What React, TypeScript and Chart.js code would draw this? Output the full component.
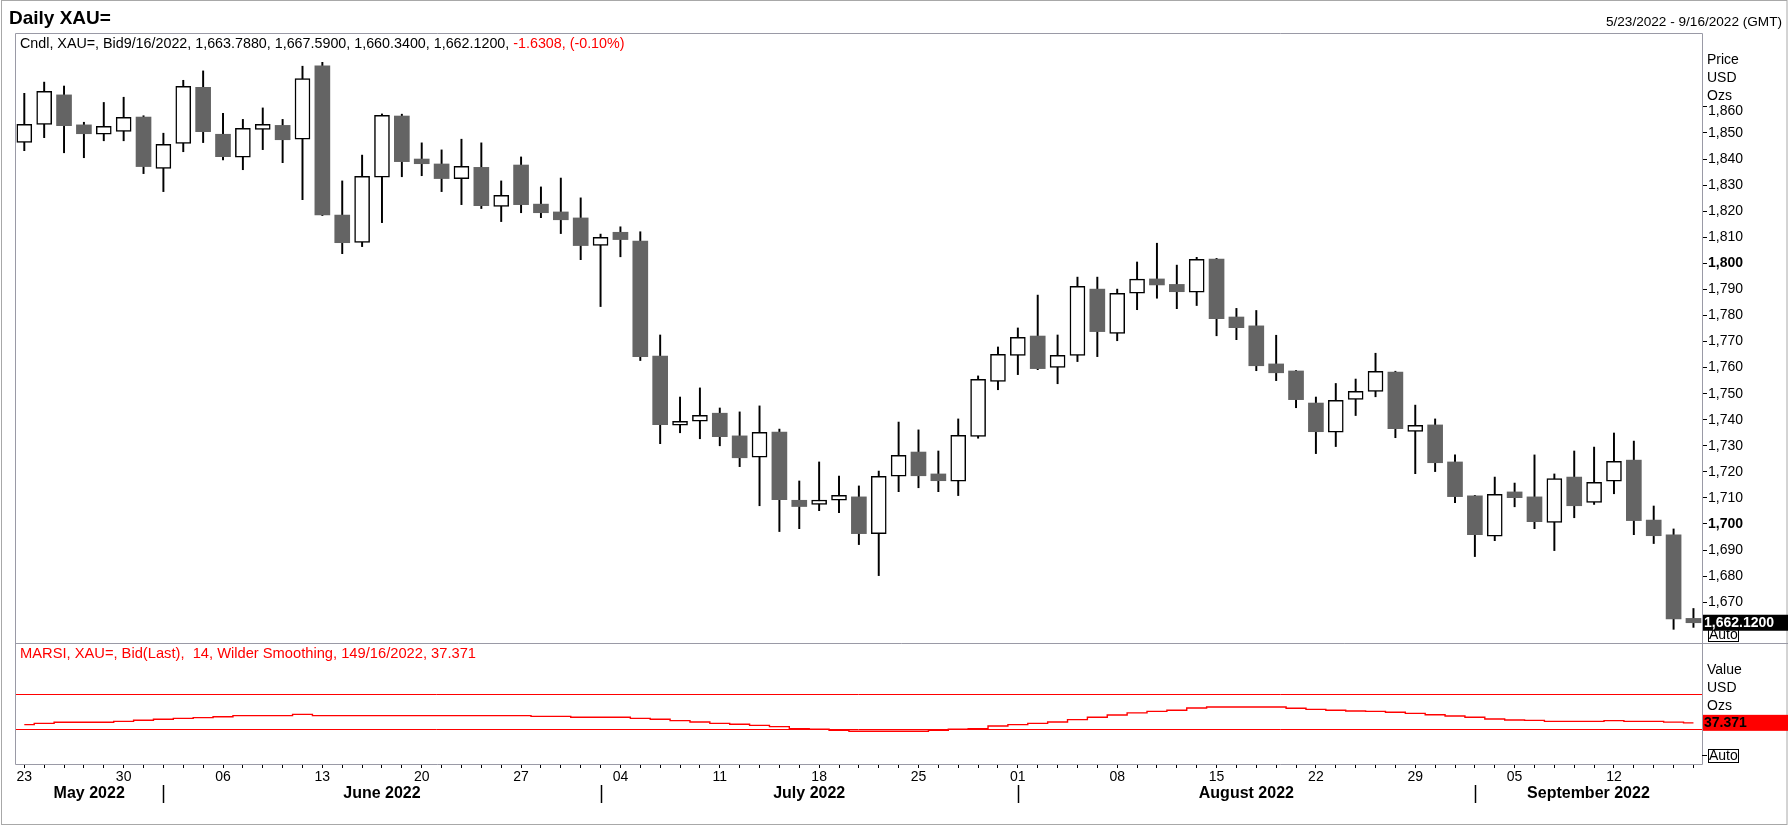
import React, { useEffect, useRef } from "react";
import { Chart, registerables } from "chart.js";

Chart.register(...registerables);

const FONT = '"Liberation Sans", Arial, sans-serif';

// trading days shown (Mon-Fri)
const dates = [
  "2022-05-23", "2022-05-24", "2022-05-25", "2022-05-26", "2022-05-27",
  "2022-05-30", "2022-05-31", "2022-06-01", "2022-06-02", "2022-06-03",
  "2022-06-06", "2022-06-07", "2022-06-08", "2022-06-09", "2022-06-10",
  "2022-06-13", "2022-06-14", "2022-06-15", "2022-06-16", "2022-06-17",
  "2022-06-20", "2022-06-21", "2022-06-22", "2022-06-23", "2022-06-24",
  "2022-06-27", "2022-06-28", "2022-06-29", "2022-06-30", "2022-07-01",
  "2022-07-04", "2022-07-05", "2022-07-06", "2022-07-07", "2022-07-08",
  "2022-07-11", "2022-07-12", "2022-07-13", "2022-07-14", "2022-07-15",
  "2022-07-18", "2022-07-19", "2022-07-20", "2022-07-21", "2022-07-22",
  "2022-07-25", "2022-07-26", "2022-07-27", "2022-07-28", "2022-07-29",
  "2022-08-01", "2022-08-02", "2022-08-03", "2022-08-04", "2022-08-05",
  "2022-08-08", "2022-08-09", "2022-08-10", "2022-08-11", "2022-08-12",
  "2022-08-15", "2022-08-16", "2022-08-17", "2022-08-18", "2022-08-19",
  "2022-08-22", "2022-08-23", "2022-08-24", "2022-08-25", "2022-08-26",
  "2022-08-29", "2022-08-30", "2022-08-31", "2022-09-01", "2022-09-02",
  "2022-09-05", "2022-09-06", "2022-09-07", "2022-09-08", "2022-09-09",
  "2022-09-12", "2022-09-13", "2022-09-14", "2022-09-15", "2022-09-16",
];

const opens = [
  1846.4, 1853.3, 1864.6, 1853.1, 1849.5,
  1850.6, 1856.1, 1836.4, 1846.0, 1867.5,
  1849.5, 1840.7, 1851.4, 1852.9, 1847.6,
  1875.7, 1818.5, 1808.0, 1833.0, 1856.5,
  1840.0, 1838.1, 1832.5, 1836.8, 1821.8,
  1837.7, 1822.7, 1819.7, 1817.4, 1806.9,
  1811.9, 1808.5, 1764.4, 1737.9, 1739.4,
  1742.5, 1733.8, 1725.6, 1735.3, 1709.1,
  1707.5, 1709.1, 1710.4, 1696.3, 1718.3,
  1727.6, 1719.2, 1716.4, 1733.6, 1754.7,
  1764.7, 1772.1, 1760.1, 1764.7, 1790.1,
  1773.1, 1788.5, 1794.0, 1791.9, 1788.9,
  1801.6, 1779.4, 1776.0, 1761.4, 1758.7,
  1746.4, 1735.2, 1747.8, 1750.9, 1758.3,
  1735.5, 1738.0, 1723.8, 1710.8, 1695.3,
  1712.3, 1710.4, 1700.6, 1718.0, 1708.3,
  1716.4, 1724.5, 1701.5, 1695.8, 1663.788,
];

const highs = [
  1865.2, 1869.5, 1868.0, 1854.1, 1861.7,
  1863.7, 1856.6, 1849.9, 1870.2, 1873.8,
  1857.5, 1855.2, 1859.6, 1855.2, 1875.6,
  1877.1, 1831.6, 1841.5, 1857.3, 1857.2,
  1846.2, 1843.5, 1847.6, 1846.2, 1831.6,
  1840.8, 1829.3, 1832.7, 1825.1, 1811.2,
  1814.0, 1812.1, 1772.5, 1748.7, 1752.2,
  1744.5, 1743.0, 1745.3, 1736.4, 1716.5,
  1723.8, 1718.4, 1714.6, 1720.3, 1739.1,
  1736.1, 1728.0, 1740.3, 1756.8, 1767.9,
  1775.2, 1787.8, 1772.5, 1794.7, 1794.7,
  1790.1, 1800.5, 1807.7, 1799.3, 1802.3,
  1801.9, 1782.7, 1781.9, 1772.4, 1758.9,
  1748.7, 1753.9, 1755.6, 1765.5, 1758.6,
  1745.6, 1740.3, 1726.5, 1711.0, 1718.0,
  1715.7, 1726.5, 1719.2, 1728.0, 1729.5,
  1734.9, 1731.8, 1706.9, 1698.1, 1667.59,
];

const lows = [
  1843.2, 1848.2, 1842.4, 1840.5, 1847.0,
  1847.0, 1834.4, 1827.5, 1842.8, 1846.3,
  1839.7, 1835.9, 1843.6, 1838.6, 1824.4,
  1818.3, 1803.7, 1806.4, 1815.6, 1833.2,
  1833.6, 1827.5, 1822.5, 1821.0, 1816.0,
  1819.4, 1817.5, 1811.4, 1801.4, 1783.4,
  1802.5, 1762.7, 1730.8, 1735.0, 1732.7,
  1730.0, 1722.0, 1707.0, 1697.1, 1698.2,
  1705.1, 1704.3, 1692.1, 1680.2, 1712.4,
  1713.9, 1712.4, 1710.9, 1732.9, 1751.5,
  1757.3, 1759.2, 1753.8, 1762.3, 1764.2,
  1770.3, 1782.2, 1786.6, 1782.6, 1783.8,
  1772.2, 1770.7, 1758.8, 1755.0, 1744.6,
  1727.0, 1729.7, 1741.6, 1748.8, 1733.1,
  1719.3, 1720.1, 1708.2, 1687.5, 1693.6,
  1706.6, 1698.2, 1689.8, 1702.4, 1707.5,
  1711.6, 1695.9, 1692.5, 1659.6, 1660.34,
];

const closes = [
  1853.3, 1866.0, 1852.8, 1849.7, 1852.5,
  1856.0, 1837.1, 1845.6, 1867.9, 1850.5,
  1840.9, 1851.8, 1853.3, 1847.4, 1870.9,
  1818.6, 1807.9, 1833.4, 1856.8, 1839.0,
  1838.2, 1832.5, 1837.2, 1822.1, 1826.1,
  1822.5, 1819.4, 1816.7, 1806.8, 1810.0,
  1809.1, 1764.2, 1738.1, 1739.4, 1741.7,
  1733.5, 1725.4, 1735.2, 1709.3, 1706.7,
  1709.2, 1711.0, 1696.3, 1718.3, 1726.3,
  1718.5, 1716.6, 1734.0, 1755.5, 1765.1,
  1771.6, 1759.6, 1764.7, 1791.2, 1773.8,
  1788.5, 1793.9, 1791.7, 1789.1, 1801.5,
  1778.8, 1775.3, 1760.7, 1758.0, 1747.7,
  1735.4, 1747.4, 1750.9, 1758.6, 1736.6,
  1737.8, 1723.5, 1710.5, 1695.9, 1711.4,
  1710.1, 1700.9, 1717.4, 1707.0, 1716.0,
  1724.0, 1701.3, 1695.5, 1663.6, 1662.12,
];

// smoothed RSI (MARSI, 14, Wilder)
const rsi = [
  35.3, 36.8, 38.0, 38.0, 38.0,
  39.1, 40.3, 41.4, 42.5, 43.3,
  44.4, 45.6, 45.6, 45.6, 47.1,
  45.6, 45.6, 45.6, 45.6, 45.6,
  45.6, 45.6, 45.6, 45.6, 45.6,
  45.6, 44.8, 44.8, 43.7, 43.7,
  43.7, 42.5, 41.4, 39.9, 38.3,
  36.8, 35.7, 34.5, 33.0, 30.7,
  30.0, 28.8, 27.7, 27.7, 27.7,
  27.7, 28.8, 30.0, 30.7, 33.8,
  35.3, 36.8, 38.3, 41.0, 43.7,
  46.3, 48.8, 50.5, 51.7, 54.3,
  55.5, 55.5, 55.5, 55.5, 54.0,
  52.8, 51.7, 50.9, 50.5, 49.4,
  48.2, 46.7, 45.2, 43.7, 41.8,
  40.6, 40.2, 39.1, 39.1, 39.1,
  39.9, 39.1, 39.1, 38.2, 37.371,
];

const rsiLevels = [70, 30];
const monthNames = ["January", "February", "March", "April", "May", "June", "July", "August", "September", "October", "November", "December"];
const priceUnits = ["Price", "USD", "Ozs"];
const rsiUnits = ["Value", "USD", "Ozs"];
const topPriceTick = 1860; // label nudged below "Ozs"

const lastIdx = closes.length - 1;
const change = closes[lastIdx] - 1663.7508;

const isMonday = (d: string) => new Date(d + "T00:00:00Z").getUTCDay() === 1;
const monthOf = (d: string) => Number(d.slice(5, 7)) - 1;
const fmt = (v: number, dp: number) =>
  v.toLocaleString("en-US", { minimumFractionDigits: dp, maximumFractionDigits: dp });

const overlay = {
  id: "overlay",
  beforeDatasetsDraw(chart: any) {
    const { ctx, chartArea } = chart;
    const yR = chart.scales.yRsi;
    ctx.save();
    ctx.strokeStyle = "#ff0000";
    ctx.lineWidth = 1;
    rsiLevels.forEach((lv) => {
      const y = Math.round(yR.getPixelForValue(lv)) + 0.5;
      ctx.beginPath();
      ctx.moveTo(chartArea.left, y);
      ctx.lineTo(chartArea.right, y);
      ctx.stroke();
    });
    ctx.restore();
  },
  afterDraw(chart: any) {
    const { ctx, chartArea, scales } = chart;
    const { left, top, right, bottom } = chartArea;
    const x = scales.x;
    const yP = scales.y;
    const yR = scales.yRsi;
    const sep = Math.round(yR.top) + 0.5;
    const W = chart.width;
    const line = (x1: number, y1: number, x2: number, y2: number) => {
      ctx.beginPath();
      ctx.moveTo(x1, y1);
      ctx.lineTo(x2, y2);
      ctx.stroke();
    };
    ctx.save();

    // outer frame
    ctx.strokeStyle = "#a8a8a8";
    ctx.lineWidth = 1;
    ctx.strokeRect(1.5, 0.5, W - 2.5, chart.height - 3);

    // panel frames
    ctx.strokeStyle = "#9a9aa6";
    const L = Math.round(left) + 0.5;
    const R = Math.round(right) + 0.5;
    const T = Math.round(top) + 0.5;
    const B = Math.round(bottom) + 0.5;
    line(L, T, R, T);
    line(L, T, L, B);
    line(R, T, R, B);
    line(L, sep, W, sep);
    line(L, B, R, B);

    // headings
    ctx.textBaseline = "alphabetic";
    ctx.fillStyle = "#000";
    ctx.font = `bold 19px ${FONT}`;
    ctx.textAlign = "left";
    ctx.fillText("Daily XAU=", 9, 24);
    ctx.font = `13.6px ${FONT}`;
    ctx.textAlign = "right";
    ctx.fillText(`5/23/2022 - 9/16/2022 (GMT)`, W - 6, 26);

    ctx.textAlign = "left";
    ctx.font = `14.3px ${FONT}`;
    const lastDate = "9/16/2022";
    const part1 = `Cndl, XAU=, Bid${lastDate}, ${fmt(opens[lastIdx], 4)}, ${fmt(highs[lastIdx], 4)}, ${fmt(lows[lastIdx], 4)}, ${fmt(closes[lastIdx], 4)}, `;
    const part2 = `${fmt(change, 4)}, (${fmt((change / 1663.7508) * 100, 2)}%)`;
    ctx.fillText(part1, 20, top + 15);
    ctx.fillStyle = "#ff0000";
    ctx.fillText(part2, 20 + ctx.measureText(part1).width, top + 15);
    ctx.font = `14.7px ${FONT}`;
    ctx.fillText(
      `MARSI, XAU=, Bid(Last),  14, Wilder Smoothing, 14${lastDate}, ${rsi[lastIdx].toFixed(3)}`,
      20,
      yR.top + 15
    );

    // right axis captions
    ctx.fillStyle = "#000";
    ctx.font = `14px ${FONT}`;
    priceUnits.forEach((t, i) => ctx.fillText(t, right + 5, top + 30.5 + i * 18));
    rsiUnits.forEach((t, i) => ctx.fillText(t, right + 5, yR.top + 30.5 + i * 18));
    ctx.textBaseline = "middle";
    ctx.fillText(fmt(topPriceTick, 0), right + 6, yP.getPixelForValue(topPriceTick) + 4.5);
    ctx.textBaseline = "alphabetic";

    // "Auto" boxes
    const autoBox = (yb: number) => {
      ctx.fillStyle = "#fff";
      ctx.fillRect(right + 6, yb - 15, 30, 13);
      ctx.strokeStyle = "#000";
      ctx.strokeRect(right + 6.5, yb - 14.5, 30, 13);
      ctx.fillStyle = "#000";
      ctx.textBaseline = "middle";
      ctx.fillText("Auto", right + 7, yb - 8);
      ctx.textBaseline = "alphabetic";
    };
    autoBox(yP.bottom);
    autoBox(yR.bottom);
    ctx.strokeStyle = "#000";
    line(right, yR.bottom - 8.5, right + 5, yR.bottom - 8.5);

    // last value boxes
    ctx.font = `bold 14px ${FONT}`;
    ctx.textBaseline = "middle";
    const yc = yP.getPixelForValue(closes[lastIdx]);
    ctx.fillStyle = "#000";
    ctx.fillRect(right + 1, yc - 8, W - right - 1, 16);
    ctx.fillStyle = "#fff";
    ctx.fillText(fmt(closes[lastIdx], 4), right + 2, yc + 0.5);
    const yv = yR.getPixelForValue(rsi[lastIdx]);
    ctx.fillStyle = "#ff0000";
    ctx.fillRect(right + 1, yv - 8, W - right - 1, 16);
    ctx.fillStyle = "#000";
    ctx.fillText(rsi[lastIdx].toFixed(3), right + 2, yv + 0.5);

    // month row
    const starts: number[] = [0];
    for (let i = 1; i < dates.length; i++) {
      if (monthOf(dates[i]) !== monthOf(dates[i - 1])) starts.push(i);
    }
    ctx.font = `bold 16px ${FONT}`;
    ctx.textAlign = "center";
    ctx.textBaseline = "alphabetic";
    ctx.strokeStyle = "#000";
    ctx.lineWidth = 1.5;
    starts.forEach((s, k) => {
      const x0 = k === 0 ? left : x.getPixelForValue(s);
      const x1 = k === starts.length - 1 ? right : x.getPixelForValue(starts[k + 1]);
      ctx.fillText(`${monthNames[monthOf(dates[s])]} ${dates[s].slice(0, 4)}`, (x0 + x1) / 2, 798);
      if (k > 0) line(Math.round(x0) + 0.5, 785, Math.round(x0) + 0.5, 803);
    });
    ctx.restore();
  },
};

const App: React.FC = () => {
  const canvasRef = useRef<HTMLCanvasElement | null>(null);

  useEffect(() => {
    const canvas = canvasRef.current;
    if (!canvas) return;
    const up = closes.map((c, i) => c >= opens[i]);

    const chart = new Chart(canvas, {
      type: "bar",
      data: {
        datasets: [
          {
            type: "line",
            data: rsi.map((v, i) => ({ x: i, y: v })),
            yAxisID: "yRsi",
            borderColor: "#ff0000",
            borderWidth: 1.4,
            pointRadius: 0,
            stepped: "middle",
            order: 0,
          } as any,
          {
            type: "bar",
            data: opens.map((o, i) => ({ x: i, y: [o, closes[i]] })),
            yAxisID: "y",
            backgroundColor: up.map((u) => (u ? "#ffffff" : "#646464")),
            borderColor: "#000000",
            borderWidth: up.map((u) => (u ? 1.5 : 0)),
            borderSkipped: false,
            barThickness: 15,
            grouped: false,
            order: 1,
          },
          {
            type: "bar",
            data: lows.map((l, i) => ({ x: i, y: [l, highs[i]] })),
            yAxisID: "y",
            backgroundColor: "#000000",
            borderWidth: 0,
            barThickness: 1.3,
            grouped: false,
            order: 2,
          },
        ],
      },
      options: {
        responsive: false,
        animation: false,
        events: [],
        layout: { padding: { left: 15, top: 33, right: 0, bottom: 0 } },
        plugins: { legend: { display: false }, tooltip: { enabled: false } },
        scales: {
          x: {
            type: "linear",
            min: -0.468,
            max: 84.43,
            offset: false,
            afterBuildTicks: (scale: any) => {
              scale.ticks = dates.map((_, i) => ({ value: i }));
            },
            afterFit: (scale: any) => {
              scale.height = 63;
            },
            ticks: {
              autoSkip: false,
              maxRotation: 0,
              padding: 1,
              color: "#000",
              font: { family: FONT, size: 14 },
              callback: (value: any) => {
                const d = dates[value as number];
                return d && isMonday(d) ? d.slice(8, 10) : "";
              },
            },
            grid: { offset: false, drawOnChartArea: false, tickLength: 4, color: "#000" },
            border: { display: false },
          },
          y: {
            type: "linear",
            position: "right",
            stack: "panels",
            stackWeight: 610,
            min: 1654.35,
            max: 1888.34,
            afterFit: (scale: any) => {
              scale.width = 86;
            },
            ticks: {
              stepSize: 10,
              autoSkip: false,
              padding: 1,
              color: "#000",
              font: (c: any) => ({
                family: FONT,
                size: 14,
                weight: c.tick && c.tick.value % 100 === 0 ? "bold" : "normal",
              }),
              callback: (value: any) =>
                value > topPriceTick || value < 1670
                  ? null
                  : value === topPriceTick
                  ? ""
                  : fmt(value as number, 0),
            },
            grid: { drawOnChartArea: false, tickLength: 5, color: "#000" },
            border: { display: false },
          },
          yRsi: {
            type: "linear",
            position: "right",
            stack: "panels",
            stackWeight: 121,
            min: -9.66,
            max: 128.6,
            afterFit: (scale: any) => {
              scale.width = 86;
            },
            ticks: { display: false },
            grid: { display: false },
            border: { display: false },
          },
        },
      },
      plugins: [overlay],
    });

    return () => chart.destroy();
  }, []);

  return (
    <div style={{ position: "absolute", left: 0, top: 0, width: 1788, height: 827, background: "#fff" }}>
      <canvas ref={canvasRef} width={1788} height={827} style={{ display: "block" }} />
    </div>
  );
};

export default App;
